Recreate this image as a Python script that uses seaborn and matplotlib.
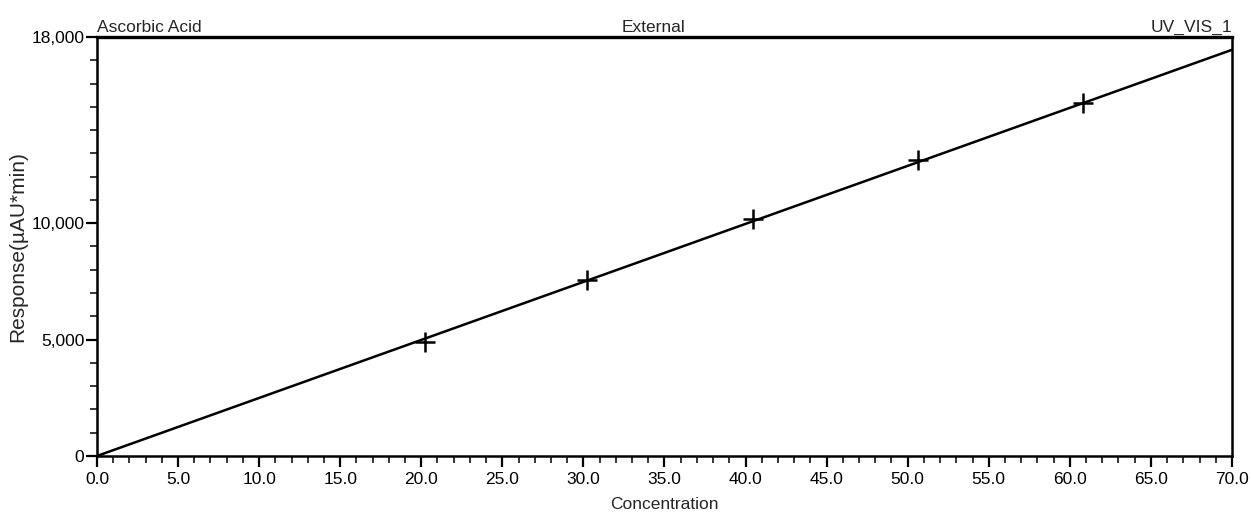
# Calibration curve: Ascorbic Acid, external standard

import numpy as np
import pandas as pd
import matplotlib
matplotlib.use("Agg")
import matplotlib.pyplot as plt
from matplotlib.ticker import FixedLocator, MultipleLocator, FuncFormatter
from matplotlib import font_manager
import seaborn as sns

# Data
conc = [20.23, 30.22, 40.46, 50.63, 60.81]
response = [4897, 7561, 10181, 12716, 15165]
line_conc = [0.0, 70.0]
line_resp = [0.0, 17450.0]
y_ticks = [0, 5000, 10000, 18000]

sns.set_style("ticks")
names = {f.name for f in font_manager.fontManager.ttflist}
fam = "Liberation Sans Narrow" if "Liberation Sans Narrow" in names else "Liberation Sans"
plt.rcParams['font.family'] = [fam, 'DejaVu Sans']

pts = pd.DataFrame({'Concentration': conc, 'Response': response})
fit = pd.DataFrame({'Concentration': line_conc, 'Response': line_resp})

fig = plt.figure(figsize=(12.51, 5.16), dpi=100)
ax = fig.add_axes([0.0775, 0.1163, 0.9073, 0.812])

sns.lineplot(data=fit, x='Concentration', y='Response', color='black', linewidth=1.8, ax=ax)
sns.scatterplot(data=pts, x='Concentration', y='Response', marker='+', s=190,
                color='black', linewidth=1.8, ax=ax, zorder=3)

ax.set_xlim(0, 70)
ax.set_ylim(0, 18000)
ax.xaxis.set_major_locator(MultipleLocator(5))
ax.xaxis.set_minor_locator(MultipleLocator(1))
ax.xaxis.set_major_formatter(FuncFormatter(lambda v, p: f"{v:.1f}"))
ax.yaxis.set_major_locator(FixedLocator(y_ticks))
ax.yaxis.set_minor_locator(MultipleLocator(1000))
ax.yaxis.set_major_formatter(FuncFormatter(lambda v, p: f"{int(v):,}"))

ax.tick_params(which='major', direction='out', length=8, width=1.6, labelsize=12.5, colors='black')
ax.tick_params(axis='y', which='major', pad=1)
ax.tick_params(which='minor', direction='out', length=5, width=1.3)

for s in ax.spines.values():
    s.set_visible(True)
    s.set_linewidth(1.8)
    s.set_color('black')
ax.spines['top'].set_linewidth(2.4)

ax.set_xlabel('Concentration', fontsize=12.5, labelpad=7)
ax.set_ylabel('Response(µAU*min)', fontsize=15, labelpad=3)

ax.text(0.0, 1.005, 'Ascorbic Acid', transform=ax.transAxes, ha='left', va='bottom', fontsize=12.5)
ax.text(0.49, 1.005, 'External', transform=ax.transAxes, ha='center', va='bottom', fontsize=12.5)
ax.text(1.0, 1.005, 'UV_VIS_1', transform=ax.transAxes, ha='right', va='bottom', fontsize=12.5)

fig.savefig('out.png', dpi=100)
